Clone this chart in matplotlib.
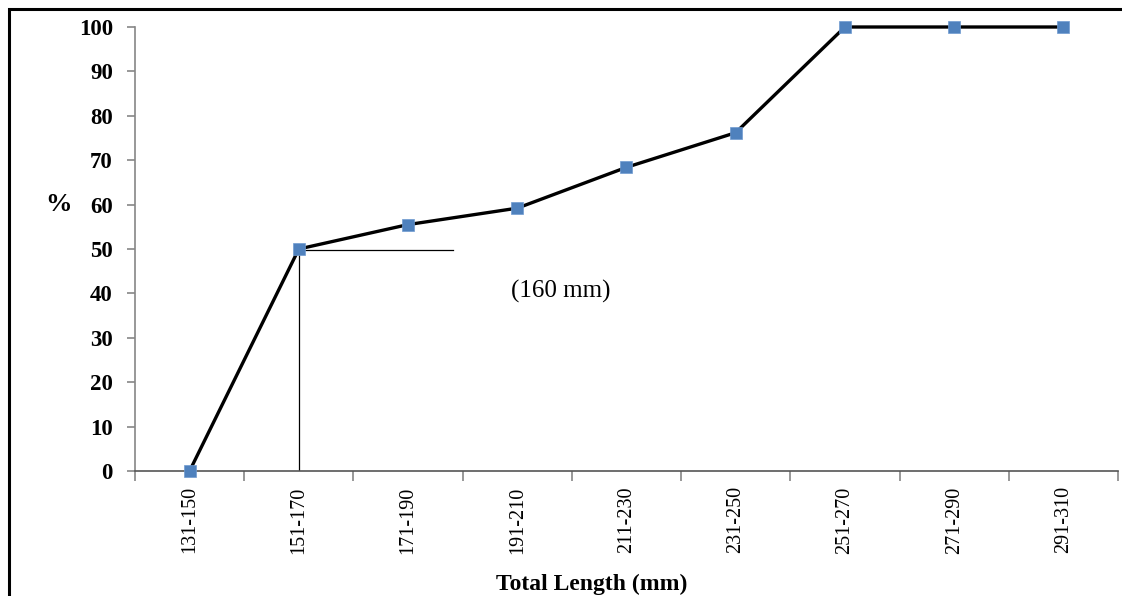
"""Cumulative percentage by total length class, with the 50 % (160 mm) read-off."""

import matplotlib

matplotlib.use("Agg")
import matplotlib.pyplot as plt  # noqa: E402
from matplotlib.patches import Rectangle  # noqa: E402

length_classes = [
    "131-150", "151-170", "171-190", "191-210", "211-230",
    "231-250", "251-270", "271-290", "291-310",
]
cum_percent = [0, 50, 55.5, 59.2, 68.4, 76.2, 100, 100, 100]
yticks = list(range(0, 101, 10))

# read-off of the 50 % length
half_idx = 1
half_value = 50
guide_end = 2.41
guide_label = "(160 mm)"

SERIF = ["Liberation Serif", "DejaVu Serif"]
AXIS_GREY = "#868686"
MARKER_BLUE = "#4F81BD"

plt.rcParams["font.family"] = SERIF

fig = plt.figure(figsize=(11.22, 5.96), dpi=100)
ax = fig.add_axes([0.1203, 0.2097, 0.9964 - 0.1203, 0.9547 - 0.2097])

x = list(range(len(length_classes)))
ax.plot(x, cum_percent, "-", color="black", lw=2.4, zorder=3, clip_on=False)
ax.plot(x, cum_percent, "s", color=MARKER_BLUE, ms=8, mec="#6f9bd1", mew=0.5,
        zorder=4, clip_on=False)

# 50 % guide lines
ax.plot([half_idx, half_idx], [0, half_value], color="black", lw=0.9, zorder=2)
ax.plot([half_idx, guide_end], [half_value - 0.3, half_value - 0.3],
        color="black", lw=0.9, zorder=2)
ax.text(3.4, 40.5, guide_label, fontsize=18, ha="center", va="center")

ax.set_xlim(-0.5, len(length_classes) - 0.5)
ax.set_ylim(0, 100)
ax.set_yticks(yticks)
ax.set_yticklabels([str(v) for v in yticks], fontsize=16.5, fontweight="bold")
ax.set_xticks(x)
ax.set_xticklabels(length_classes, rotation=90, fontsize=14.5)
ax.set_xticks([i - 0.5 for i in range(len(length_classes) + 1)], minor=True)
ax.tick_params(axis="x", which="major", length=0, pad=11)
ax.tick_params(axis="x", which="minor", length=7, color=AXIS_GREY, width=1.2,
               direction="out")
ax.tick_params(axis="y", length=6, color=AXIS_GREY, width=1.2, pad=10)

for side in ("top", "right"):
    ax.spines[side].set_visible(False)
for side in ("left", "bottom"):
    ax.spines[side].set_color(AXIS_GREY)
    ax.spines[side].set_linewidth(1.2)
ax.spines["bottom"].set_color("#555555")

fig.text(59 / 1122, 1 - 204 / 596, "%", fontsize=19, fontweight="bold",
         ha="center", va="center")
fig.text(592 / 1122, 1 - 584 / 596, "Total Length (mm)", fontsize=17,
         fontweight="bold", ha="center", va="center")

# outer frame, cut off on the right and bottom like the source image
fig.patches.append(Rectangle((9 / 1122, -0.1), 1.2, 1.1 - 9 / 596,
                             transform=fig.transFigure, fill=False,
                             edgecolor="black", lw=2.2))

fig.savefig("out.png", dpi=100)
